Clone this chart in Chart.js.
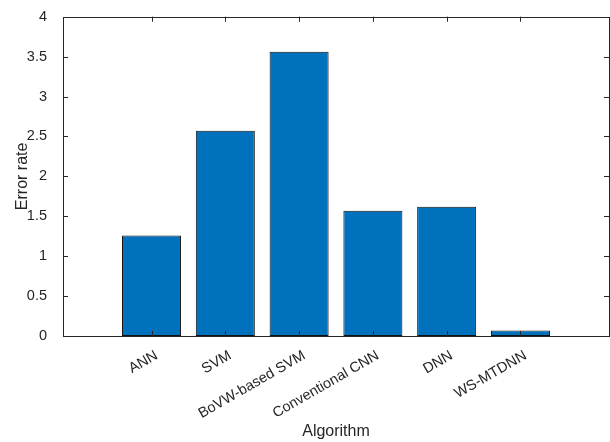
<!DOCTYPE html>
<html>
<head>
<meta charset="utf-8">
<script src="https://cdn.jsdelivr.net/npm/chart.js@4"></script>
<style>
  html, body { margin: 0; padding: 0; background: #fff; }
  #wrap { width: 610px; height: 442px; }
</style>
</head>
<body>
<div id="wrap"><canvas id="errChart" width="610" height="442"></canvas></div>
<script>
const algorithms = ['ANN', 'SVM', 'BoVW-based SVM', 'Conventional CNN', 'DNN', 'WS-MTDNN'];
const errorRates = [1.26, 2.57, 3.56, 1.57, 1.62, 0.07];
const yTicks = [0, 0.5, 1, 1.5, 2, 2.5, 3, 3.5, 4];

const axisColor = '#262626';
const barColor = '#0072BD';
const fontFamily = '"Liberation Sans", Arial, sans-serif';

// MATLAB-style box with inward tick marks, drawn on top of the bars
const boxAxes = {
    id: 'boxAxes',
    afterDraw(chart) {
        const { ctx, chartArea: a, scales: { x, y } } = chart;
        const len = 5;
        ctx.save();
        ctx.strokeStyle = axisColor;
        ctx.lineWidth = 1;
        ctx.beginPath();
        x.ticks.forEach(t => {
            const px = Math.round(x.getPixelForValue(t.value)) + 0.5;
            ctx.moveTo(px, a.bottom); ctx.lineTo(px, a.bottom - len);
            ctx.moveTo(px, a.top); ctx.lineTo(px, a.top + len);
        });
        y.ticks.forEach(t => {
            const py = Math.round(y.getPixelForValue(t.value)) + 0.5;
            ctx.moveTo(a.left, py); ctx.lineTo(a.left + len, py);
            ctx.moveTo(a.right, py); ctx.lineTo(a.right - len, py);
        });
        ctx.stroke();
        ctx.strokeRect(Math.round(a.left) + 0.5, Math.round(a.top) + 0.5,
            Math.round(a.right - a.left), Math.round(a.bottom - a.top));
        ctx.restore();
    }
};

new Chart(document.getElementById('errChart'), {
    type: 'bar',
    data: {
        datasets: [{
            data: algorithms.map((name, i) => ({ x: i + 1, y: errorRates[i] })),
            backgroundColor: barColor,
            borderColor: '#111',
            borderWidth: 1,
            borderSkipped: false,
            barPercentage: 0.8,
            categoryPercentage: 1.0
        }]
    },
    options: {
        responsive: false,
        animation: false,
        layout: { padding: { top: 14, right: 1, left: 0, bottom: 0 } },
        plugins: {
            legend: { display: false },
            tooltip: { enabled: false }
        },
        scales: {
            x: {
                type: 'linear',
                offset: false,
                min: -0.2,
                max: 7.2,
                afterBuildTicks: s => { s.ticks = algorithms.map((n, i) => ({ value: i + 1 })); },
                afterFit: s => { s.height = 106; },
                grid: { display: false },
                border: { display: false },
                ticks: {
                    autoSkip: false,
                    minRotation: 30,
                    maxRotation: 30,
                    padding: 3,
                    labelOffset: 5,
                    color: axisColor,
                    font: { family: fontFamily, size: 14.5 },
                    callback: v => algorithms[v - 1]
                },
                title: {
                    display: true,
                    text: 'Algorithm',
                    color: axisColor,
                    font: { family: fontFamily, size: 16 },
                    padding: { top: 0, bottom: 1 }
                }
            },
            y: {
                min: 0,
                max: 4,
                afterBuildTicks: s => { s.ticks = yTicks.map(v => ({ value: v })); },
                afterFit: s => { s.width = 63; },
                grid: { display: false },
                border: { display: false },
                ticks: {
                    padding: 8,
                    color: axisColor,
                    font: { family: fontFamily, size: 14.5 },
                    callback: v => String(v)
                },
                title: {
                    display: true,
                    text: 'Error rate',
                    color: axisColor,
                    font: { family: fontFamily, size: 16 },
                    padding: { top: 13, bottom: 0 }
                }
            }
        }
    },
    plugins: [boxAxes]
});
</script>
</body>
</html>
